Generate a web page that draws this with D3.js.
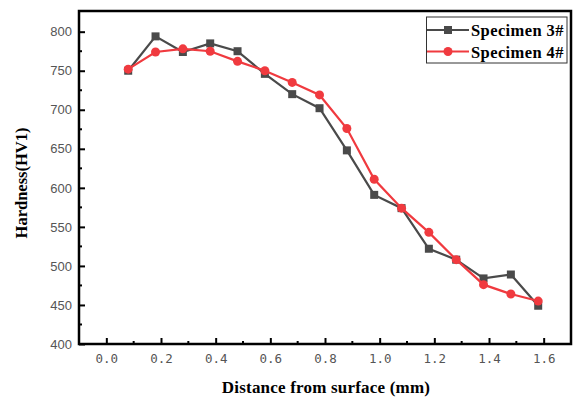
<!DOCTYPE html>
<html>
<head>
<meta charset="utf-8">
<script src="https://cdn.jsdelivr.net/npm/d3@7"></script>
<style>
  body { margin: 0; background: #fff; }
</style>
</head>
<body>
<div id="chart"></div>
<script>
// distance from surface (mm)
var distance = [0.08, 0.18, 0.28, 0.38, 0.48, 0.58, 0.68, 0.78, 0.88, 0.98, 1.08, 1.18, 1.28, 1.38, 1.48, 1.58];
// hardness HV1
var specimen3 = [750, 794, 774, 785, 775, 746, 720, 702, 648, 591, 574, 522, 508, 484, 489, 449];
var specimen4 = [752, 774, 778, 775, 762, 750, 735, 719, 676, 611, 574, 543, 508, 476, 464, 455];
var seriesNames = ['Specimen 3#', 'Specimen 4#'];
var xTicks = [0.0, 0.2, 0.4, 0.6, 0.8, 1.0, 1.2, 1.4, 1.6];
var yTicks = [400, 450, 500, 550, 600, 650, 700, 750, 800];

var width = 575, height = 400;
var margin = { top: 11, right: 4, bottom: 56, left: 79 };

var svg = d3.select('#chart').append('svg')
  .attr('width', width)
  .attr('height', height);

var x = d3.scaleLinear().domain([-0.1, 1.7]).range([margin.left, width - margin.right]);
var y = d3.scaleLinear().domain([400, 826.5]).range([height - margin.bottom, margin.top]);

var series = [
  { name: seriesNames[0], values: specimen3, color: '#4a4a4a', shape: 'square' },
  { name: seriesNames[1], values: specimen4, color: '#f03a3f', shape: 'circle' }
];

// minor ticks
var xMinor = d3.range(0, 16).map(function(i) { return +(0.1 + i * 0.2).toFixed(1); });
var yMinor = d3.range(0, 8).map(function(i) { return 425 + i * 50; });

// x axis (ticks inward)
var xAxis = svg.append('g')
  .attr('transform', 'translate(0,' + y(400) + ')')
  .call(d3.axisBottom(x).tickValues(xTicks).tickSizeInner(-6).tickSizeOuter(0)
    .tickFormat(function(d) { return d3.format('.1f')(d); }));
xAxis.select('.domain').remove();
xAxis.selectAll('.tick line').attr('stroke', '#000').attr('stroke-width', 2);
xAxis.selectAll('.tick text')
  .attr('y', 10)
  .attr('font-family', '"DejaVu Sans Mono", monospace')
  .attr('font-size', 12.5)
  .attr('fill', '#555');

svg.append('g').selectAll('line').data(xMinor.filter(function(d) { return d < 1.7; }))
  .enter().append('line')
  .attr('x1', function(d) { return x(d); })
  .attr('x2', function(d) { return x(d); })
  .attr('y1', y(400))
  .attr('y2', y(400) - 3)
  .attr('stroke', '#000')
  .attr('stroke-width', 2);

// y axis (ticks inward)
var yAxis = svg.append('g')
  .attr('transform', 'translate(' + x(-0.1) + ',0)')
  .call(d3.axisLeft(y).tickValues(yTicks).tickSizeInner(-6).tickSizeOuter(0));
yAxis.select('.domain').remove();
yAxis.selectAll('.tick line').attr('stroke', '#000').attr('stroke-width', 2);
yAxis.selectAll('.tick text')
  .attr('x', -7)
  .attr('font-family', 'Arial, "Liberation Sans", sans-serif')
  .attr('font-size', 13)
  .attr('fill', '#555');

svg.append('g').selectAll('line').data(yMinor)
  .enter().append('line')
  .attr('x1', x(-0.1))
  .attr('x2', x(-0.1) + 3)
  .attr('y1', function(d) { return y(d); })
  .attr('y2', function(d) { return y(d); })
  .attr('stroke', '#000')
  .attr('stroke-width', 2);

// frame
svg.append('rect')
  .attr('x', x(-0.1))
  .attr('y', y(826.5))
  .attr('width', x(1.7) - x(-0.1))
  .attr('height', y(400) - y(826.5))
  .attr('fill', 'none')
  .attr('stroke', '#000')
  .attr('stroke-width', 2.5);

// lines and markers
var line = d3.line()
  .x(function(d, i) { return x(distance[i]); })
  .y(function(d) { return y(d); });

series.forEach(function(s) {
  var g = svg.append('g');
  g.append('path')
    .datum(s.values)
    .attr('d', line)
    .attr('fill', 'none')
    .attr('stroke', s.color)
    .attr('stroke-width', 2.2);
  if (s.shape === 'square') {
    g.selectAll('rect').data(s.values).enter().append('rect')
      .attr('x', function(d, i) { return x(distance[i]) - 4; })
      .attr('y', function(d) { return y(d) - 4; })
      .attr('width', 8)
      .attr('height', 8)
      .attr('fill', s.color);
  } else {
    g.selectAll('circle').data(s.values).enter().append('circle')
      .attr('cx', function(d, i) { return x(distance[i]); })
      .attr('cy', function(d) { return y(d); })
      .attr('r', 4.5)
      .attr('fill', s.color);
  }
});

// legend
var legend = svg.append('g');
legend.append('rect')
  .attr('x', 426.5)
  .attr('y', 17)
  .attr('width', 140.5)
  .attr('height', 46)
  .attr('fill', '#fff')
  .attr('stroke', '#333')
  .attr('stroke-width', 1);

series.forEach(function(s, i) {
  var ly = 30 + i * 21.5;
  legend.append('line')
    .attr('x1', 427).attr('x2', 469)
    .attr('y1', ly).attr('y2', ly)
    .attr('stroke', s.color)
    .attr('stroke-width', 2.2);
  if (s.shape === 'square') {
    legend.append('rect')
      .attr('x', 444).attr('y', ly - 4)
      .attr('width', 8).attr('height', 8)
      .attr('fill', s.color);
  } else {
    legend.append('circle')
      .attr('cx', 448).attr('cy', ly)
      .attr('r', 4.5)
      .attr('fill', s.color);
  }
  legend.append('text')
    .attr('x', 471)
    .attr('y', ly + 6)
    .attr('font-family', '"Liberation Serif", "Times New Roman", serif')
    .attr('font-weight', 'bold')
    .attr('font-size', 16.5)
    .attr('letter-spacing', 0.4)
    .attr('fill', '#000')
    .text(s.name);
});

// axis titles
svg.append('text')
  .attr('x', 326)
  .attr('y', 393)
  .attr('text-anchor', 'middle')
  .attr('font-family', '"Liberation Serif", "Times New Roman", serif')
  .attr('font-weight', 'bold')
  .attr('font-size', 17)
  .attr('letter-spacing', 0.2)
  .attr('fill', '#000')
  .text('Distance from surface (mm)');

svg.append('text')
  .attr('transform', 'translate(27,183) rotate(-90)')
  .attr('text-anchor', 'middle')
  .attr('font-family', '"Liberation Serif", "Times New Roman", serif')
  .attr('font-weight', 'bold')
  .attr('font-size', 16.5)
  .attr('fill', '#000')
  .text('Hardness(HV1)');
</script>
</body>
</html>
